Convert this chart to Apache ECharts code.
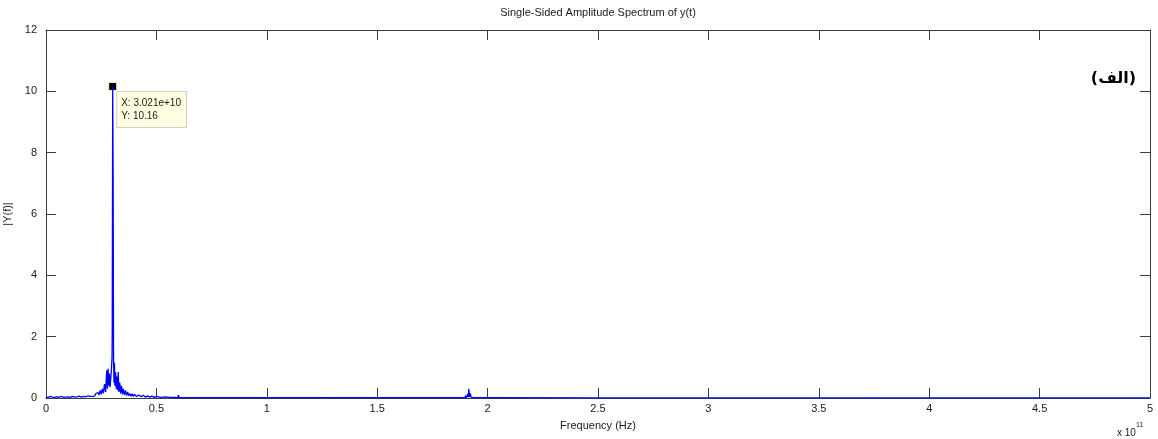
<!DOCTYPE html>
<html>
<head>
<meta charset="utf-8">
<script src="https://cdn.jsdelivr.net/npm/echarts@6/dist/echarts.min.js"></script>
<style>
  html, body { margin: 0; padding: 0; background: #fff; }
  #chart { width: 1158px; height: 439px; }
</style>
</head>
<body>
<div id="chart"></div>
<script>
// frequency samples in GHz, amplitude |Y(f)|
var freqGHz = [
  0, 1, 2, 3, 4, 5, 6, 7, 8, 9, 10, 11, 12, 13, 14, 15, 16, 17, 18, 19, 20,
  20.5, 21, 21.5, 22, 22.5, 23, 23.5, 24, 24.5, 25, 25.5, 26, 26.5, 27, 27.5, 27.8, 28.1, 28.4, 28.7, 29.0, 29.3, 29.6, 29.9,
  30.0, 30.21, 30.4, 30.6, 30.8, 31.0, 31.2, 31.5, 31.8, 32.1, 32.4, 32.7, 33.0, 33.4, 33.8, 34.2, 34.6, 35, 35.5, 36, 36.5,
  37, 37.5, 38, 38.5, 39, 39.5, 40, 41, 42, 43, 44, 45, 46, 47, 48, 49, 50, 52, 54, 56, 58,
  59.7, 60, 60.3, 65, 70, 80, 89.8, 90, 90.2, 100, 110, 126.8, 127, 127.2, 140, 160, 174.8, 175, 175.2, 185,
  187.8, 188, 188.2, 189.8, 190, 190.3, 190.8, 191, 191.2, 191.5, 191.8, 192.2, 192.5, 192.8, 193.5, 193.8, 194.1, 195,
  200, 250, 300, 400, 500
];
var amplitude = [
  0.04, 0.02, 0.05, 0.03, 0.02, 0.04, 0.03, 0.05, 0.02, 0.03, 0.04, 0.02, 0.05, 0.03, 0.04, 0.06, 0.03, 0.05, 0.04, 0.07, 0.05,
  0.08, 0.05, 0.10, 0.06, 0.14, 0.08, 0.18, 0.10, 0.25, 0.12, 0.30, 0.15, 0.45, 0.20, 0.90, 0.30, 0.95, 0.40, 0.80, 0.35, 0.60, 0.90, 1.30,
  2.10, 10.16, 7.20, 1.20, 0.50, 1.15, 0.40, 0.85, 0.30, 0.70, 0.25, 0.85, 0.20, 0.50, 0.15, 0.40, 0.12, 0.30, 0.10, 0.25, 0.08,
  0.20, 0.07, 0.15, 0.06, 0.14, 0.05, 0.12, 0.05, 0.10, 0.04, 0.09, 0.03, 0.07, 0.03, 0.06, 0.02, 0.05, 0.02, 0.04, 0.02, 0.02,
  0.01, 0.10, 0.01, 0.01, 0.01, 0.01, 0.01, 0.04, 0.01, 0.01, 0.01, 0.01, 0.03, 0.01, 0.01, 0.01, 0.01, 0.02, 0.01, 0.01,
  0.01, 0.04, 0.01, 0.01, 0.08, 0.01, 0.02, 0.12, 0.02, 0.30, 0.04, 0.15, 0.03, 0.08, 0.01, 0.06, 0.01, 0.01,
  0.01, 0.005, 0.005, 0.005, 0.005
];
var peakFreq = 3.021e10;
var peakAmp = 10.16;

var points = freqGHz.map(function (f, i) { return [f * 1e9, amplitude[i]]; });

var axisColor = '#3c3c3c';
var labelColor = '#1a1a1a';
var fontFam = '"Liberation Sans", Arial, sans-serif';

var chart = echarts.init(document.getElementById('chart'));

var xBase = {
  type: 'value',
  min: 0,
  max: 5e11,
  interval: 5e10,
  splitLine: { show: false },
  axisLine: { show: true, onZero: false, lineStyle: { color: axisColor, width: 1 } },
  axisTick: { show: true, inside: true, length: 10, lineStyle: { color: axisColor } }
};
var yBase = {
  type: 'value',
  min: 0,
  max: 12,
  interval: 2,
  splitLine: { show: false },
  axisLine: { show: true, onZero: false, lineStyle: { color: axisColor, width: 1 } },
  axisTick: { show: true, inside: true, length: 10, lineStyle: { color: axisColor } }
};

chart.setOption({
  animation: false,
  textStyle: { fontFamily: fontFam },
  grid: { left: 46, right: 8, top: 30, bottom: 41, containLabel: false, outerBoundsMode: 'none' },
  xAxis: [
    Object.assign({}, xBase, {
      position: 'bottom',
      name: 'Frequency (Hz)',
      nameLocation: 'middle',
      nameGap: 22,
      nameTextStyle: { fontSize: 11, color: labelColor, fontFamily: fontFam },
      axisLabel: {
        fontSize: 11, color: labelColor, margin: 5, fontFamily: fontFam,
        formatter: function (v) { return String(Math.round(v / 1e10) / 10); }
      }
    }),
    Object.assign({}, xBase, { position: 'top', axisLabel: { show: false } })
  ],
  yAxis: [
    Object.assign({}, yBase, {
      position: 'left',
      name: '|Y(f)|',
      nameLocation: 'middle',
      nameGap: 28,
      nameTextStyle: { fontSize: 11, color: labelColor, fontFamily: fontFam },
      axisLabel: { fontSize: 11, color: labelColor, margin: 9, fontFamily: fontFam }
    }),
    Object.assign({}, yBase, { position: 'right', axisLabel: { show: false } })
  ],
  series: [{
    type: 'line',
    data: points,
    showSymbol: false,
    lineStyle: { color: '#0000ff', width: 1.3 },
    z: 5,
    markPoint: {
      symbol: 'rect',
      symbolSize: 8,
      itemStyle: { color: '#000000', borderColor: '#f2f2c8', borderWidth: 1 },
      label: {
        show: true,
        position: [9, 10],
        formatter: 'X: 3.021e+10\nY: 10.16',
        fontSize: 10,
        lineHeight: 13,
        color: '#1a1a1a',
        fontFamily: fontFam,
        backgroundColor: '#ffffe1',
        borderColor: '#cfcfcf',
        borderWidth: 1,
        padding: [5, 5, 4, 4]
      },
      data: [{ coord: [peakFreq, peakAmp] }]
    }
  }],
  graphic: [
    {
      type: 'text', x: 598, y: 7,
      style: { text: 'Single-Sided Amplitude Spectrum of y(t)', textAlign: 'center', fontSize: 11, fill: labelColor, fontFamily: fontFam }
    },
    {
      type: 'text', left: 1117, top: 422,
      style: {
        text: '{b|x 10}{s|11}',
        rich: {
          b: { fontSize: 10, fill: labelColor, fontFamily: fontFam, padding: [6, 0, 0, 0] },
          s: { fontSize: 7, fill: labelColor, fontFamily: fontFam, verticalAlign: 'top' }
        }
      }
    },
    {
      type: 'text', right: 22, top: 71,
      style: { text: '(الف)', fontSize: 16, fontWeight: 'bold', fill: '#000', fontFamily: '"DejaVu Sans", sans-serif' }
    }
  ]
});
</script>
</body>
</html>
